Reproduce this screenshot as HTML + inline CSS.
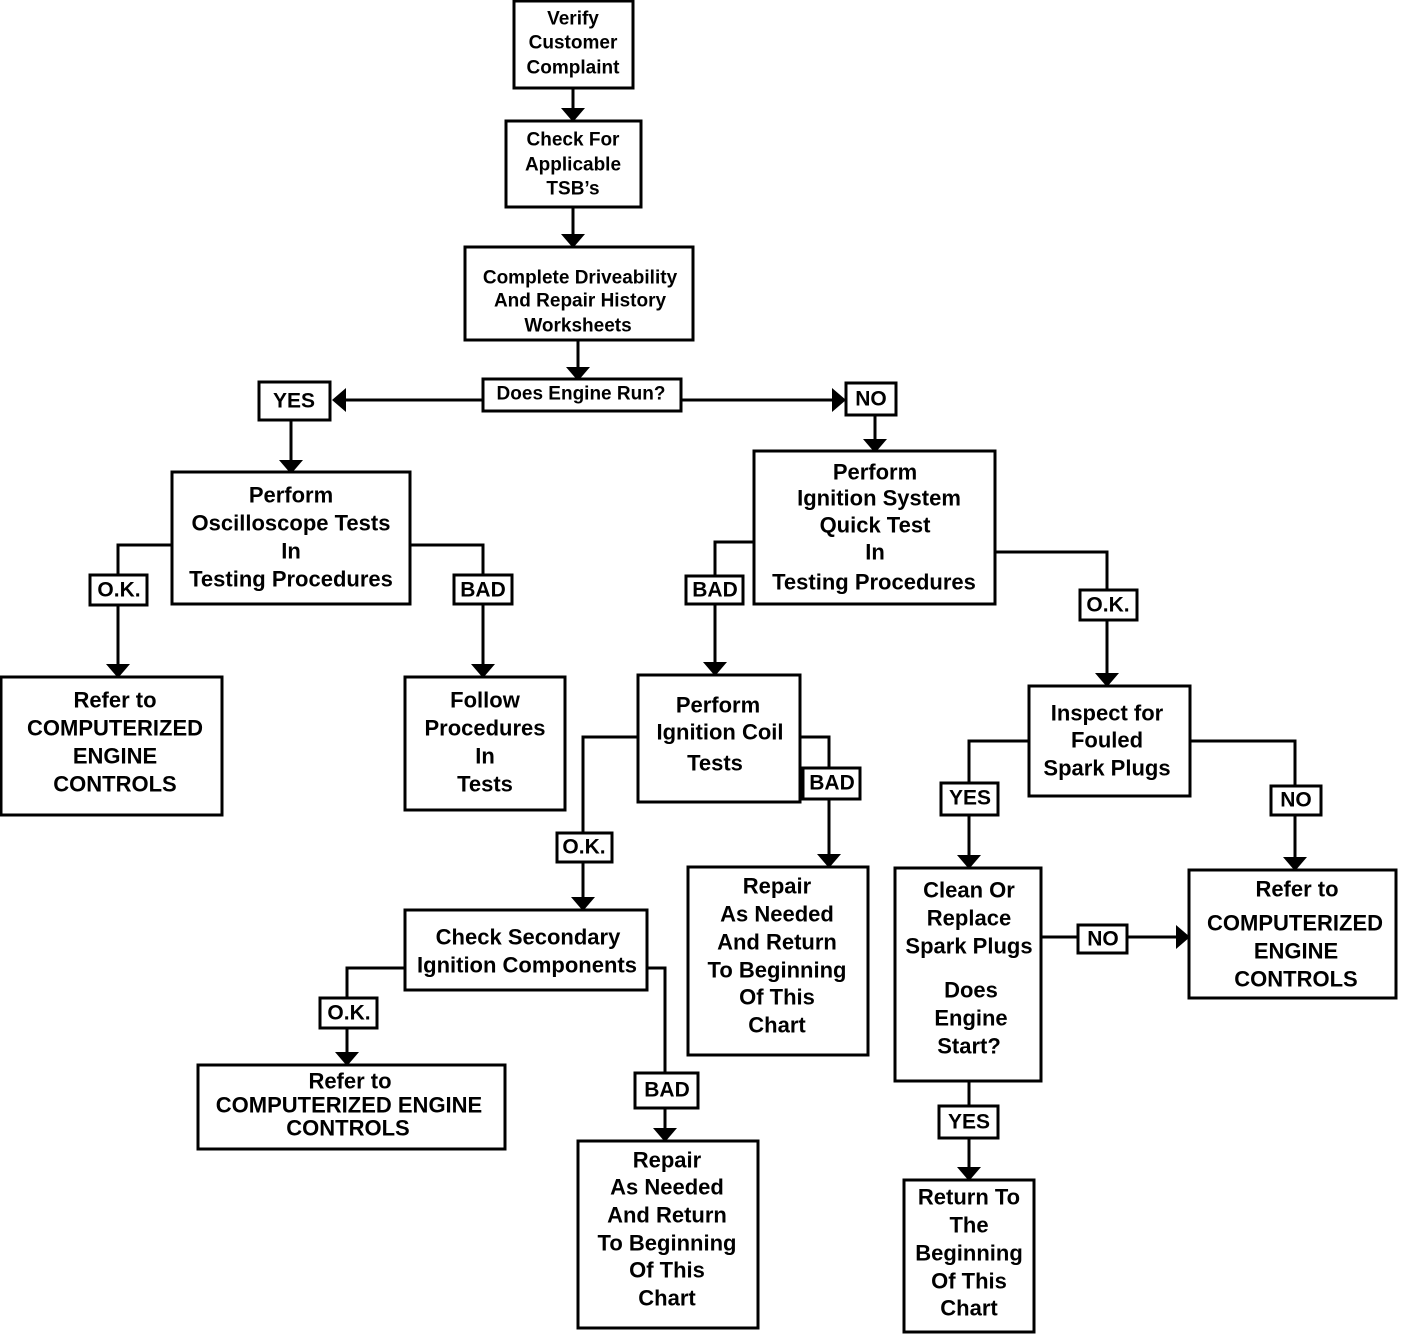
<!DOCTYPE html>
<html><head><meta charset="utf-8"><style>
html,body{margin:0;padding:0;background:#fff}
svg{display:block}
text{font-family:"Liberation Sans",Arial,sans-serif;font-weight:bold;fill:#000;text-anchor:middle;dominant-baseline:central}
.b{fill:#fff;stroke:#000;stroke-width:3}
.l{fill:none;stroke:#000;stroke-width:3}
.s{font-size:19px}
.m{font-size:22px}
.t{font-size:21px}
</style></head><body>
<svg width="1408" height="1334" viewBox="0 0 1408 1334" xmlns="http://www.w3.org/2000/svg">
<defs>
<polygon id="ad" points="-12,-13 12,-13 0,1" fill="#000"/>
</defs>
<!-- connectors -->
<g class="l">
<path d="M573 88V108"/><path d="M573 207V234"/><path d="M578 340V367"/>
<path d="M483 400H345"/><path d="M681 400H833"/>
<path d="M291 420V460"/><path d="M875 415V439"/>
<path d="M172 545H118V575M118 605V664"/>
<path d="M410 545H483V575M483 604V664"/>
<path d="M754 542H715V576M715 604V662"/>
<path d="M995 552H1107V590M1107 620V673"/>
<path d="M638 737H583V833M583 862V897"/>
<path d="M800 737H829V768M829 799V854"/>
<path d="M405 968H347V998M347 1028V1052"/>
<path d="M647 968H665V1073M665 1108V1128"/>
<path d="M1029 741H969V783M969 815V855"/>
<path d="M1190 741H1295V786M1295 815V857"/>
<path d="M1041 937H1078M1127 937H1176"/>
<path d="M969 1081V1106M969 1138V1167"/>
</g>
<!-- arrowheads -->
<use href="#ad" x="573" y="121"/><use href="#ad" x="573" y="247"/><use href="#ad" x="578" y="380"/>
<use href="#ad" x="291" y="473"/><use href="#ad" x="875" y="452"/>
<use href="#ad" x="118" y="677"/><use href="#ad" x="483" y="677"/>
<use href="#ad" x="715" y="675"/><use href="#ad" x="1107" y="686"/>
<use href="#ad" x="583" y="910"/><use href="#ad" x="829" y="867"/>
<use href="#ad" x="347" y="1065"/><use href="#ad" x="665" y="1141"/>
<use href="#ad" x="969" y="868"/><use href="#ad" x="1295" y="870"/>
<use href="#ad" x="969" y="1180"/>
<polygon points="332,400 346,388 346,412" fill="#000"/>
<polygon points="846,400 832,388 832,412" fill="#000"/>
<polygon points="1190,937 1176,925 1176,949" fill="#000"/>
<!-- boxes -->
<rect class="b" x="514" y="1" width="119" height="87"/>
<text class="s" x="573" y="19">Verify</text><text class="s" x="573" y="43">Customer</text><text class="s" x="573" y="68">Complaint</text>
<rect class="b" x="506" y="121" width="135" height="86"/>
<text class="s" x="573" y="140">Check For</text><text class="s" x="573" y="165">Applicable</text><text class="s" x="573" y="189">TSB’s</text>
<rect class="b" x="465" y="247" width="228" height="93"/>
<text class="s" x="580" y="278">Complete Driveability</text><text class="s" x="580" y="301">And Repair History</text><text class="s" x="578" y="326">Worksheets</text>
<rect class="b" x="483" y="379" width="198" height="32"/>
<text class="s" x="581" y="394">Does Engine Run?</text>
<rect class="b" x="259" y="382" width="71" height="38"/><text class="t" x="294" y="401">YES</text>
<rect class="b" x="846" y="383" width="50" height="32"/><text class="t" x="871" y="399">NO</text>
<rect class="b" x="172" y="472" width="238" height="132"/>
<text class="m" x="291" y="495">Perform</text><text class="m" x="291" y="523">Oscilloscope Tests</text><text class="m" x="291" y="551">In</text><text class="m" x="291" y="579">Testing Procedures</text>
<rect class="b" x="90" y="575" width="57" height="30"/><text class="t" x="119" y="590">O.K.</text>
<rect class="b" x="454" y="575" width="58" height="29"/><text class="t" x="483" y="590">BAD</text>
<rect class="b" x="1" y="677" width="221" height="138"/>
<text class="m" x="115" y="700">Refer to</text><text class="m" x="115" y="728">COMPUTERIZED</text><text class="m" x="115" y="756">ENGINE</text><text class="m" x="115" y="784">CONTROLS</text>
<rect class="b" x="405" y="677" width="160" height="133"/>
<text class="m" x="485" y="700">Follow</text><text class="m" x="485" y="728">Procedures</text><text class="m" x="485" y="756">In</text><text class="m" x="485" y="784">Tests</text>
<rect class="b" x="754" y="451" width="241" height="153"/>
<text class="m" x="875" y="472">Perform</text><text class="m" x="879" y="498">Ignition System</text><text class="m" x="875" y="525">Quick Test</text><text class="m" x="875" y="552">In</text><text class="m" x="874" y="582">Testing Procedures</text>
<rect class="b" x="686" y="576" width="57" height="28"/><text class="t" x="715" y="590">BAD</text>
<rect class="b" x="1080" y="590" width="57" height="30"/><text class="t" x="1108" y="605">O.K.</text>
<rect class="b" x="638" y="675" width="162" height="127"/>
<text class="m" x="718" y="705">Perform</text><text class="m" x="720" y="732">Ignition Coil</text><text class="m" x="715" y="763">Tests</text>
<rect class="b" x="803" y="768" width="57" height="31"/><text class="t" x="832" y="783">BAD</text>
<rect class="b" x="557" y="833" width="55" height="29"/><text class="t" x="584" y="847">O.K.</text>
<rect class="b" x="688" y="867" width="180" height="188"/>
<text class="m" x="777" y="886">Repair</text><text class="m" x="777" y="914">As Needed</text><text class="m" x="777" y="942">And Return</text><text class="m" x="777" y="970">To Beginning</text><text class="m" x="777" y="997">Of This</text><text class="m" x="777" y="1025">Chart</text>
<rect class="b" x="405" y="910" width="242" height="80"/>
<text class="m" x="528" y="937">Check Secondary</text><text class="m" x="527" y="965">Ignition Components</text>
<rect class="b" x="320" y="998" width="57" height="30"/><text class="t" x="349" y="1013">O.K.</text>
<rect class="b" x="635" y="1073" width="63" height="35"/><text class="t" x="667" y="1090">BAD</text>
<rect class="b" x="198" y="1065" width="307" height="84"/>
<text class="m" x="350" y="1081">Refer to</text><text class="m" x="349" y="1105">COMPUTERIZED ENGINE</text><text class="m" x="348" y="1128">CONTROLS</text>
<rect class="b" x="578" y="1141" width="180" height="187"/>
<text class="m" x="667" y="1160">Repair</text><text class="m" x="667" y="1187">As Needed</text><text class="m" x="667" y="1215">And Return</text><text class="m" x="667" y="1243">To Beginning</text><text class="m" x="667" y="1270">Of This</text><text class="m" x="667" y="1298">Chart</text>
<rect class="b" x="1029" y="686" width="161" height="110"/>
<text class="m" x="1107" y="713">Inspect for</text><text class="m" x="1107" y="740">Fouled</text><text class="m" x="1107" y="768">Spark Plugs</text>
<rect class="b" x="941" y="783" width="57" height="32"/><text class="t" x="970" y="798">YES</text>
<rect class="b" x="1271" y="786" width="50" height="29"/><text class="t" x="1296" y="800">NO</text>
<rect class="b" x="895" y="868" width="146" height="213"/>
<text class="m" x="969" y="890">Clean Or</text><text class="m" x="969" y="918">Replace</text><text class="m" x="969" y="946">Spark Plugs</text><text class="m" x="971" y="990">Does</text><text class="m" x="971" y="1018">Engine</text><text class="m" x="969" y="1046">Start?</text>
<rect class="b" x="1078" y="925" width="49" height="28"/><text class="t" x="1103" y="939">NO</text>
<rect class="b" x="1189" y="870" width="207" height="128"/>
<text class="m" x="1297" y="889">Refer to</text><text class="m" x="1295" y="923">COMPUTERIZED</text><text class="m" x="1296" y="951">ENGINE</text><text class="m" x="1296" y="979">CONTROLS</text>
<rect class="b" x="939" y="1106" width="59" height="32"/><text class="t" x="969" y="1122">YES</text>
<rect class="b" x="904" y="1180" width="130" height="152"/>
<text class="m" x="969" y="1197">Return To</text><text class="m" x="969" y="1225">The</text><text class="m" x="969" y="1253">Beginning</text><text class="m" x="969" y="1281">Of This</text><text class="m" x="969" y="1308">Chart</text>
</svg>
</body></html>
